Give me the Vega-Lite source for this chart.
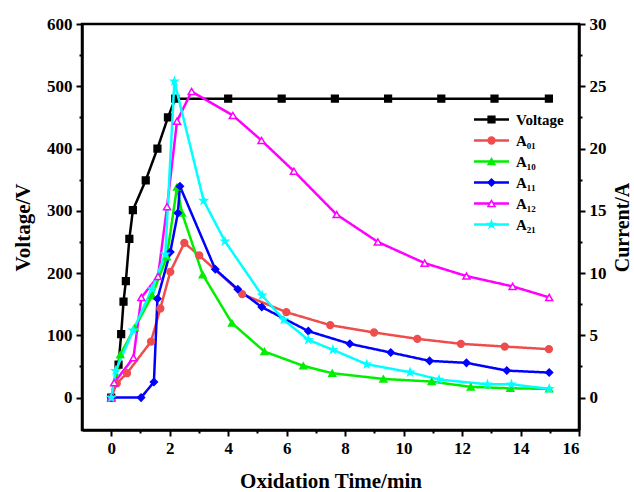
{
  "$schema": "https://vega.github.io/schema/vega-lite/v6.json",
  "width": 497,
  "height": 406,
  "autosize": {"type": "none"},
  "padding": {"left": 82, "top": 24, "right": 55, "bottom": 62},
  "background": "white",
  "config": {
    "view": {"stroke": "black", "strokeWidth": 2.5},
    "font": "Liberation Serif",
    "axis": {
      "grid": false,
      "domainColor": "black",
      "domainWidth": 2.5,
      "tickColor": "black",
      "tickWidth": 2,
      "labelColor": "black",
      "labelFont": "Liberation Serif",
      "labelFontWeight": "bold",
      "labelFontSize": 17,
      "titleColor": "black",
      "titleFont": "Liberation Serif",
      "titleFontWeight": "bold",
      "titleFontSize": 21
    },
    "legend": {
      "orient": "none",
      "legendX": 402,
      "legendY": 88,
      "title": null,
      "padding": 0,
      "labelFont": "Liberation Serif",
      "labelFontWeight": "bold",
      "labelFontSize": 15,
      "labelColor": "black",
      "labelOffset": 17,
      "symbolStrokeWidth": 1.5,
      "rowPadding": 5,
      "zindex": 2
    }
  },
  "data": {
    "values": [
      {"t": 0, "s": "Voltage", "y": 0},
      {"t": 0.25, "s": "Voltage", "y": 53},
      {"t": 0.34, "s": "Voltage", "y": 102},
      {"t": 0.42, "s": "Voltage", "y": 154},
      {"t": 0.5, "s": "Voltage", "y": 187},
      {"t": 0.62, "s": "Voltage", "y": 255},
      {"t": 0.74, "s": "Voltage", "y": 301},
      {"t": 1.18, "s": "Voltage", "y": 349},
      {"t": 1.58, "s": "Voltage", "y": 400},
      {"t": 1.94, "s": "Voltage", "y": 450},
      {"t": 2.19, "s": "Voltage", "y": 480},
      {"t": 4.0, "s": "Voltage", "y": 480},
      {"t": 5.83, "s": "Voltage", "y": 480},
      {"t": 7.65, "s": "Voltage", "y": 480},
      {"t": 9.47, "s": "Voltage", "y": 480},
      {"t": 11.29, "s": "Voltage", "y": 480},
      {"t": 13.11, "s": "Voltage", "y": 480},
      {"t": 14.97, "s": "Voltage", "y": 480},

      {"t": 0, "s": "A₀₁", "y": 0},
      {"t": 0.19, "s": "A₀₁", "y": 1.15},
      {"t": 0.54, "s": "A₀₁", "y": 1.96},
      {"t": 1.36, "s": "A₀₁", "y": 4.5},
      {"t": 1.68, "s": "A₀₁", "y": 7.16},
      {"t": 2.02, "s": "A₀₁", "y": 10.1},
      {"t": 2.5, "s": "A₀₁", "y": 12.42},
      {"t": 3.01, "s": "A₀₁", "y": 11.42},
      {"t": 4.48, "s": "A₀₁", "y": 8.31},
      {"t": 5.99, "s": "A₀₁", "y": 6.86},
      {"t": 7.49, "s": "A₀₁", "y": 5.82},
      {"t": 8.99, "s": "A₀₁", "y": 5.23},
      {"t": 10.47, "s": "A₀₁", "y": 4.72},
      {"t": 11.96, "s": "A₀₁", "y": 4.32},
      {"t": 13.46, "s": "A₀₁", "y": 4.1},
      {"t": 14.97, "s": "A₀₁", "y": 3.89},

      {"t": 0, "s": "A₁₀", "y": 0},
      {"t": 0.31, "s": "A₁₀", "y": 3.45},
      {"t": 0.8, "s": "A₁₀", "y": 5.6},
      {"t": 1.4, "s": "A₁₀", "y": 8.2},
      {"t": 1.9, "s": "A₁₀", "y": 11.3},
      {"t": 2.25, "s": "A₁₀", "y": 16.9},
      {"t": 2.42, "s": "A₁₀", "y": 14.83},
      {"t": 3.13, "s": "A₁₀", "y": 9.87},
      {"t": 4.13, "s": "A₁₀", "y": 5.98},
      {"t": 5.24, "s": "A₁₀", "y": 3.7},
      {"t": 6.57, "s": "A₁₀", "y": 2.55},
      {"t": 7.56, "s": "A₁₀", "y": 1.96},
      {"t": 9.31, "s": "A₁₀", "y": 1.5},
      {"t": 10.96, "s": "A₁₀", "y": 1.29},
      {"t": 12.3, "s": "A₁₀", "y": 0.86},
      {"t": 13.65, "s": "A₁₀", "y": 0.75},
      {"t": 14.98, "s": "A₁₀", "y": 0.7},

      {"t": 0, "s": "A₁₁", "y": 0},
      {"t": 1.02, "s": "A₁₁", "y": 0},
      {"t": 1.46, "s": "A₁₁", "y": 1.25},
      {"t": 1.58, "s": "A₁₁", "y": 7.94},
      {"t": 2.02, "s": "A₁₁", "y": 11.69},
      {"t": 2.28, "s": "A₁₁", "y": 14.83},
      {"t": 2.35, "s": "A₁₁", "y": 16.97},
      {"t": 3.56, "s": "A₁₁", "y": 10.3},
      {"t": 4.33, "s": "A₁₁", "y": 8.7},
      {"t": 5.15, "s": "A₁₁", "y": 7.27},
      {"t": 6.74, "s": "A₁₁", "y": 5.34},
      {"t": 8.16, "s": "A₁₁", "y": 4.32},
      {"t": 9.56, "s": "A₁₁", "y": 3.62},
      {"t": 10.89, "s": "A₁₁", "y": 2.95},
      {"t": 12.15, "s": "A₁₁", "y": 2.79},
      {"t": 13.53, "s": "A₁₁", "y": 2.17},
      {"t": 14.98, "s": "A₁₁", "y": 2.01},

      {"t": 0, "s": "A₁₂", "y": 0},
      {"t": 0.1, "s": "A₁₂", "y": 1.2},
      {"t": 0.76, "s": "A₁₂", "y": 3.2},
      {"t": 1.03, "s": "A₁₂", "y": 8.04},
      {"t": 1.6, "s": "A₁₂", "y": 9.73},
      {"t": 1.91, "s": "A₁₂", "y": 15.33},
      {"t": 2.25, "s": "A₁₂", "y": 22.2},
      {"t": 2.75, "s": "A₁₂", "y": 24.58},
      {"t": 4.16, "s": "A₁₂", "y": 22.66},
      {"t": 5.14, "s": "A₁₂", "y": 20.65},
      {"t": 6.25, "s": "A₁₂", "y": 18.18},
      {"t": 7.71, "s": "A₁₂", "y": 14.7},
      {"t": 9.12, "s": "A₁₂", "y": 12.5},
      {"t": 10.72, "s": "A₁₂", "y": 10.8},
      {"t": 12.15, "s": "A₁₂", "y": 9.76},
      {"t": 13.73, "s": "A₁₂", "y": 8.93},
      {"t": 14.98, "s": "A₁₂", "y": 8.05},

      {"t": 0, "s": "A₂₁", "y": 0},
      {"t": 0.15, "s": "A₂₁", "y": 2.15},
      {"t": 0.75, "s": "A₂₁", "y": 5.4},
      {"t": 1.39, "s": "A₂₁", "y": 8.72},
      {"t": 1.85, "s": "A₂₁", "y": 11.5},
      {"t": 2.16, "s": "A₂₁", "y": 25.4},
      {"t": 3.16, "s": "A₂₁", "y": 15.82},
      {"t": 3.89, "s": "A₂₁", "y": 12.55},
      {"t": 5.16, "s": "A₂₁", "y": 8.21},
      {"t": 5.9, "s": "A₂₁", "y": 6.25},
      {"t": 6.74, "s": "A₂₁", "y": 4.64},
      {"t": 7.58, "s": "A₂₁", "y": 3.84},
      {"t": 8.74, "s": "A₂₁", "y": 2.68},
      {"t": 10.22, "s": "A₂₁", "y": 2.04},
      {"t": 11.21, "s": "A₂₁", "y": 1.45},
      {"t": 12.87, "s": "A₂₁", "y": 1.07},
      {"t": 13.69, "s": "A₂₁", "y": 1.07},
      {"t": 14.98, "s": "A₂₁", "y": 0.7}
    ]
  },
  "encoding": {
    "x": {
      "field": "t",
      "type": "quantitative",
      "scale": {"domain": [-1, 16], "nice": false, "zero": false},
      "axis": {
        "orient": "bottom",
        "title": "Oxidation Time/min",
        "values": [0, 1, 2, 3, 4, 5, 6, 7, 8, 9, 10, 11, 12, 13, 14, 15, 16],
        "labelExpr": "datum.value % 2 === 0 ? datum.label : ''",
        "tickSize": {"expr": "datum.value % 2 === 0 ? 6 : 3"},
        "labelPadding": 4,
        "titlePadding": 14
      }
    },
    "color": {
      "field": "s",
      "type": "nominal",
      "scale": {
        "domain": ["Voltage", "A₀₁", "A₁₀", "A₁₁", "A₁₂", "A₂₁"],
        "range": ["#000000", "#ef4d4d", "#00ee00", "#0000ff", "#ff00ff", "#00ffff"]
      }
    }
  },
  "layer": [
    {
      "transform": [{"filter": "datum.s === 'Voltage'"}],
      "encoding": {
        "y": {
          "field": "y",
          "type": "quantitative",
          "scale": {"domain": [-52, 600], "nice": false, "zero": false},
          "axis": {
            "orient": "left",
            "title": "Voltage/V",
            "values": [0, 50, 100, 150, 200, 250, 300, 350, 400, 450, 500, 550, 600],
            "labelExpr": "datum.value % 100 === 0 ? datum.label : ''",
            "tickSize": {"expr": "datum.value % 100 === 0 ? 6 : 3"},
            "labelPadding": 4,
            "titlePadding": 13,
            "titleAngle": 270
          }
        }
      },
      "layer": [
        {
          "mark": {"type": "line", "strokeWidth": 2.5},
          "encoding": {
            "strokeDash": {
              "field": "s",
              "type": "nominal",
              "sort": ["Voltage", "A₀₁", "A₁₀", "A₁₁", "A₁₂", "A₂₁"],
              "scale": {"range": [[1, 0]]},
              "legend": {
                "orient": "none",
                "legendX": 402,
                "legendY": 88,
                "symbolType": "M-3.5,0H3.5",
                "symbolSize": 100,
                "symbolStrokeWidth": 2.5,
                "symbolStrokeColor": {"expr": "scale('color', datum.value)"},
                "labelOpacity": 0,
                "zindex": 1
              }
            }
          }
        },
        {
          "mark": {"type": "point", "filled": false, "opacity": 1, "strokeWidth": 1.5},
          "encoding": {
            "shape": {"field": "s", "type": "nominal", "scale": {"domain": ["Voltage", "A₀₁", "A₁₀", "A₁₁", "A₁₂", "A₂₁"], "range": ["square", "circle", "triangle-up", "diamond", "triangle-up", "M0,-1L0.235,-0.324L0.951,-0.309L0.38,0.124L0.588,0.809L0,0.4L-0.588,0.809L-0.38,0.124L-0.951,-0.309L-0.235,-0.324Z"]}},
            "fill": {"field": "s", "type": "nominal", "scale": {"domain": ["Voltage", "A₀₁", "A₁₀", "A₁₁", "A₁₂", "A₂₁"], "range": ["#000000", "#ef4d4d", "#00ee00", "#0000ff", "#ffffff", "#00ffff"]}},
            "size": {"field": "s", "type": "nominal", "scale": {"domain": ["Voltage", "A₀₁", "A₁₀", "A₁₁", "A₁₂", "A₂₁"], "range": [45, 50, 60, 55, 100, 80]}}
          }
        }
      ]
    },
    {
      "transform": [{"filter": "datum.s !== 'Voltage'"}],
      "encoding": {
        "y": {
          "field": "y",
          "type": "quantitative",
          "scale": {"domain": [-2.6, 30], "nice": false, "zero": false},
          "axis": {
            "orient": "right",
            "title": "Current/A",
            "values": [0, 2.5, 5, 7.5, 10, 12.5, 15, 17.5, 20, 22.5, 25, 27.5, 30],
            "labelExpr": "datum.value % 5 === 0 ? datum.label : ''",
            "tickSize": {"expr": "datum.value % 5 === 0 ? 6 : 3"},
            "labelPadding": 4,
            "titlePadding": 26,
            "titleAngle": 270,
            "titleFontSize": 20
          }
        }
      },
      "layer": [
        {
          "mark": {"type": "line", "strokeWidth": 2.5},
          "encoding": {
            "strokeDash": {
              "field": "s",
              "type": "nominal",
              "sort": ["Voltage", "A₀₁", "A₁₀", "A₁₁", "A₁₂", "A₂₁"],
              "scale": {"range": [[1, 0]]},
              "legend": {
                "orient": "none",
                "legendX": 402,
                "legendY": 88,
                "symbolType": "M-3.5,0H3.5",
                "symbolSize": 100,
                "symbolStrokeWidth": 2.5,
                "symbolStrokeColor": {"expr": "scale('color', datum.value)"},
                "labelOpacity": 0,
                "zindex": 1
              }
            }
          }
        },
        {
          "mark": {"type": "point", "filled": false, "opacity": 1, "strokeWidth": 1.5},
          "encoding": {
            "shape": {"field": "s", "type": "nominal", "scale": {"domain": ["Voltage", "A₀₁", "A₁₀", "A₁₁", "A₁₂", "A₂₁"], "range": ["square", "circle", "triangle-up", "diamond", "triangle-up", "M0,-1L0.235,-0.324L0.951,-0.309L0.38,0.124L0.588,0.809L0,0.4L-0.588,0.809L-0.38,0.124L-0.951,-0.309L-0.235,-0.324Z"]}},
            "fill": {"field": "s", "type": "nominal", "scale": {"domain": ["Voltage", "A₀₁", "A₁₀", "A₁₁", "A₁₂", "A₂₁"], "range": ["#000000", "#ef4d4d", "#00ee00", "#0000ff", "#ffffff", "#00ffff"]}},
            "size": {"field": "s", "type": "nominal", "scale": {"domain": ["Voltage", "A₀₁", "A₁₀", "A₁₁", "A₁₂", "A₂₁"], "range": [45, 50, 60, 55, 100, 80]}}
          }
        }
      ]
    }
  ],
  "resolve": {"scale": {"y": "independent"}}
}
